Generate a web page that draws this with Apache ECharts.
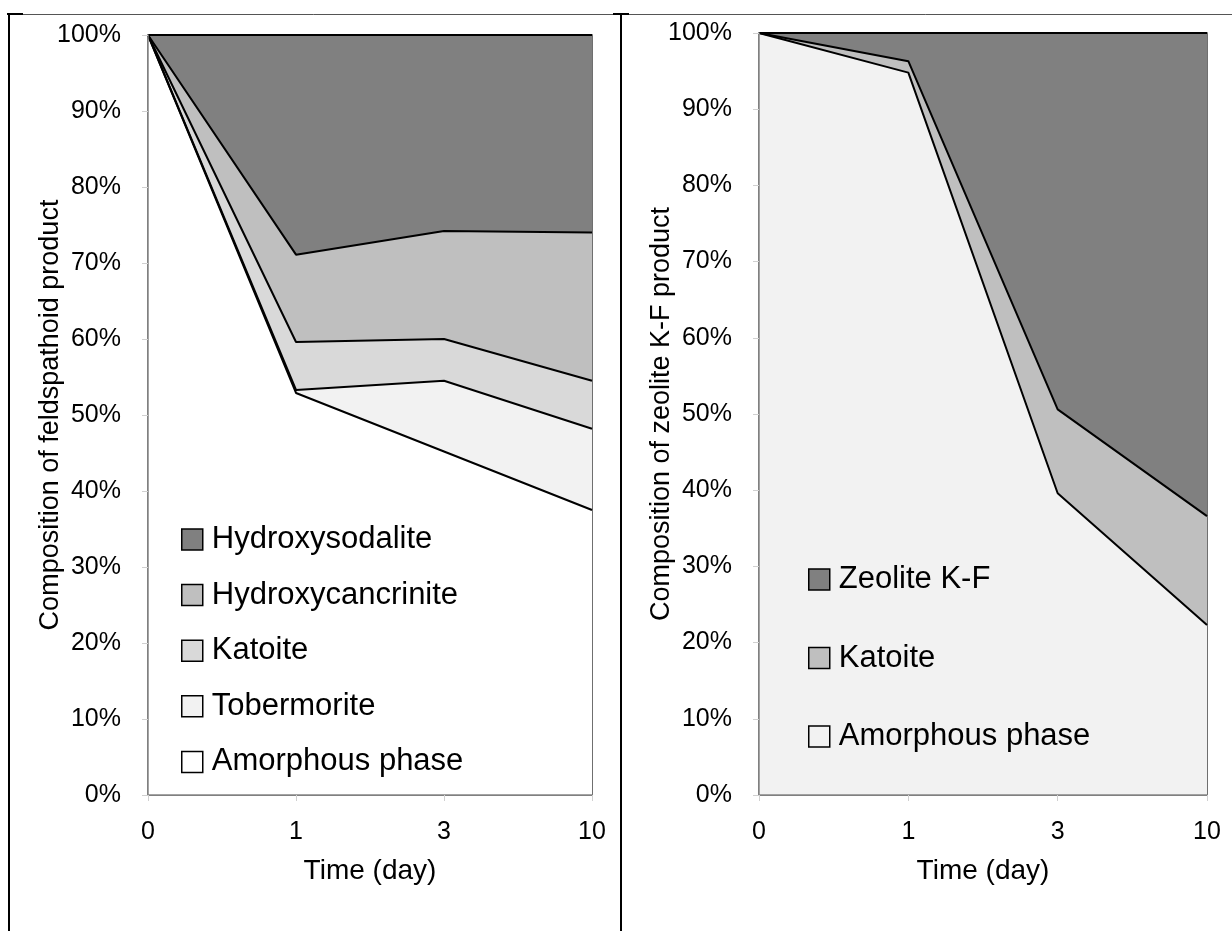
<!DOCTYPE html>
<html>
<head>
<meta charset="utf-8">
<script src="https://cdn.jsdelivr.net/npm/echarts@6/dist/echarts.min.js"></script>
<style>
  html, body { margin: 0; padding: 0; background: #fff; }
  #chart { width: 1232px; height: 931px; }
</style>
</head>
<body>
<div id="chart"></div>
<script>
// data
const days = ["0", "1", "3", "10"];

const feldAmorphous = [100, 52.9, 45.2, 37.5];
const feldTobermorite = [0, 0.4, 9.3, 10.7];
const feldKatoite = [0, 6.3, 5.5, 6.3];
const feldCancrinite = [0, 11.5, 14.2, 19.5];
const feldSodalite = [0, 28.9, 25.8, 26.0];

const zeoAmorphous = [100, 94.8, 39.6, 22.3];
const zeoKatoite = [0, 1.5, 11.0, 14.3];
const zeoKF = [0, 3.7, 49.4, 63.4];

const yTicks = [0, 10, 20, 30, 40, 50, 60, 70, 80, 90, 100];

const colors = {
  dark: "#808080",
  mid: "#bfbfbf",
  light: "#d9d9d9",
  pale: "#f2f2f2",
  white: "#ffffff",
  axis: "#868686",
  text: "#000000",
};

const font = "'Liberation Sans', Arial, sans-serif";

const chart = echarts.init(document.getElementById("chart"));

const xAxisBase = (gridIndex) => ({
  gridIndex,
  type: "category",
  data: days,
  boundaryGap: false,
  name: "Time (day)",
  nameLocation: "middle",
  nameGap: 62,
  nameTextStyle: { fontFamily: font, fontSize: 28, color: colors.text },
  axisLine: { lineStyle: { color: colors.axis, width: 1.5 } },
  axisTick: { length: 6, lineStyle: { color: "#d0d0d0" } },
  axisLabel: { fontFamily: font, fontSize: 25, color: colors.text, margin: 25 },
  z: 5,
});

const yAxisBase = (gridIndex, name) => ({
  gridIndex,
  type: "value",
  min: 0,
  max: 100,
  interval: 10,
  name,
  nameLocation: "middle",
  nameGap: 84,
  nameMoveOverlap: false,
  nameTextStyle: { fontFamily: font, fontSize: 27, color: colors.text },
  axisLine: { show: true, lineStyle: { color: colors.axis, width: 1.5 } },
  axisTick: { show: true, length: 6, lineStyle: { color: "#d0d0d0" } },
  axisLabel: {
    fontFamily: font,
    fontSize: 25,
    color: colors.text,
    margin: 27,
    formatter: (v) => (yTicks.includes(v) ? v + "%" : ""),
  },
  splitLine: { show: false },
  z: 5,
});

const area = (name, data, color, xi, stack) => ({
  name,
  type: "line",
  xAxisIndex: xi,
  yAxisIndex: xi,
  stack,
  data,
  color,
  showSymbol: false,
  symbol: "none",
  lineStyle: { color: "#000", width: 2 },
  areaStyle: { color, opacity: 1 },
  emphasis: { disabled: true },
});

const legendItem = (name, color) => ({
  name,
  itemStyle: { color, borderColor: "#000", borderWidth: 1.5 },
});

const legendBase = {
  orient: "vertical",
  icon: "rect",
  padding: 0,
  itemWidth: 21,
  itemHeight: 21,
  selectedMode: false,
  textStyle: { fontFamily: font, fontSize: 31, color: colors.text, padding: [0, 0, 0, 4] },
};

chart.setOption({
  animation: false,
  backgroundColor: "#fff",
  grid: [
    { left: 148, top: 35, width: 444, height: 760, show: true, borderColor: "#404040", borderWidth: 1.5, z: 3 },
    { left: 759, top: 33, width: 448, height: 762, show: true, borderColor: "#404040", borderWidth: 1.5, z: 3 },
  ],
  xAxis: [xAxisBase(0), xAxisBase(1)],
  yAxis: [
    yAxisBase(0, "Composition of feldspathoid product"),
    yAxisBase(1, "Composition of zeolite K-F product"),
  ],
  legend: [
    Object.assign({}, legendBase, {
      left: 181,
      top: 524,
      itemGap: 24.6,
      data: [
        legendItem("Hydroxysodalite", colors.dark),
        legendItem("Hydroxycancrinite", colors.mid),
        legendItem("Katoite", colors.light),
        legendItem("Tobermorite", colors.pale),
        legendItem("Amorphous phase", colors.white),
      ],
    }),
    Object.assign({}, legendBase, {
      left: 808,
      top: 564,
      itemGap: 47.5,
      data: [
        legendItem("Zeolite K-F", colors.dark),
        legendItem("Katoite ", colors.mid),
        legendItem("Amorphous phase ", colors.pale),
      ],
    }),
  ],
  graphic: [
    { type: "line", shape: { x1: 7, y1: 14.5, x2: 1232, y2: 14.5 }, style: { stroke: "#555", lineWidth: 1 } },
    { type: "line", shape: { x1: 9, y1: 14, x2: 9, y2: 931 }, style: { stroke: "#000", lineWidth: 2 } },
    { type: "line", shape: { x1: 7, y1: 14, x2: 23, y2: 14 }, style: { stroke: "#000", lineWidth: 2 } },
    { type: "line", shape: { x1: 621, y1: 14, x2: 621, y2: 931 }, style: { stroke: "#000", lineWidth: 2 } },
    { type: "line", shape: { x1: 613, y1: 14, x2: 629, y2: 14 }, style: { stroke: "#000", lineWidth: 2 } },
  ],
  series: [
    area("Amorphous phase", feldAmorphous, colors.white, 0, "feld"),
    area("Tobermorite", feldTobermorite, colors.pale, 0, "feld"),
    area("Katoite", feldKatoite, colors.light, 0, "feld"),
    area("Hydroxycancrinite", feldCancrinite, colors.mid, 0, "feld"),
    area("Hydroxysodalite", feldSodalite, colors.dark, 0, "feld"),
    area("Amorphous phase ", zeoAmorphous, colors.pale, 1, "zeo"),
    area("Katoite ", zeoKatoite, colors.mid, 1, "zeo"),
    area("Zeolite K-F", zeoKF, colors.dark, 1, "zeo"),
  ],
});
</script>
</body>
</html>
